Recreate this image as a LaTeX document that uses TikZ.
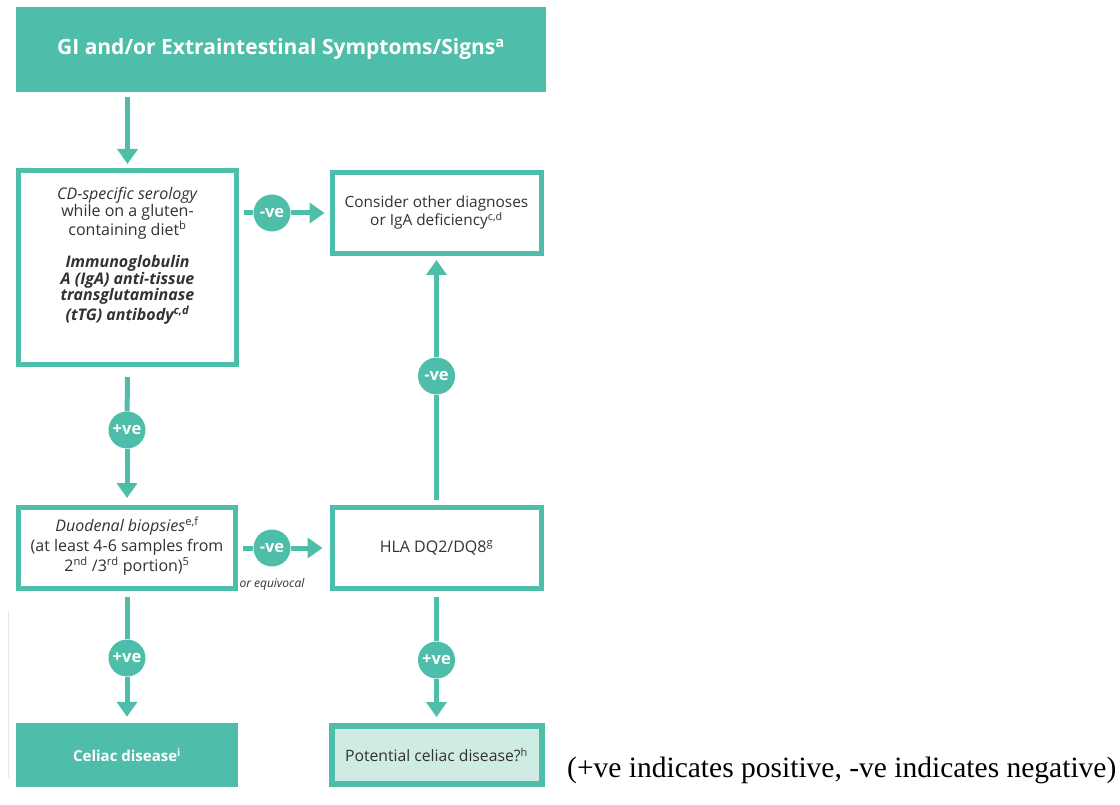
\documentclass[tikz,border=0pt]{standalone}
\usepackage{fontspec}
\setmainfont{Open Sans}
\newfontfamily\notefont{Liberation Serif}
\usetikzlibrary{arrows.meta}
\definecolor{teal1}{RGB}{78,189,169}
\definecolor{lightteal}{RGB}{206,235,228}
\definecolor{txt}{RGB}{50,50,50}
\begin{document}
\begin{tikzpicture}[x=1pt,y=-1pt,
  box/.style={draw=teal1, line width=5pt, fill=white, inner sep=0pt, text=txt,
    align=center, font=\fontsize{16}{18}\selectfont},
  fbox/.style={fill=teal1, inner sep=0pt, text=white, align=center},
  txtnode/.style={text=txt, align=center, inner sep=0pt},
  conn/.style={draw=teal1, line width=5pt},
  arr/.style={conn, -{Triangle[length=15pt,width=20pt]}},
  lab/.style={circle, fill=teal1, minimum size=37pt, inner sep=0pt, text=white,
    font=\bfseries\fontsize{16.5}{16.5}\selectfont},
]
\useasboundingbox (0,0) rectangle (1120,805);
\fill[white] (0,0) rectangle (1120,805);

% boxes
\node[fbox, minimum width=530pt, minimum height=85pt,
  font=\bfseries\fontsize{21}{24}\selectfont] (top) at (281,49.5)
  {GI and/or Extraintestinal Symptoms/Signs\textsuperscript{a}};

\node[box, minimum width=218pt, minimum height=194pt] (b2) at (127.5,267.5) {};
\node[txtnode, font=\fontsize{16}{16.5}\selectfont] (b2t) at (127.5,256)
  {\textit{CD-specific serology}\\ while on a gluten-\\ containing diet\textsuperscript{b}\\[15.5pt]
   \textbf{\textit{Immunoglobulin}}\\ \textbf{\textit{A (IgA) anti-tissue}}\\
   \textbf{\textit{transglutaminase}}\\ \textbf{\textit{(tTG) antibody\textsuperscript{c,d}}}};

\node[box, minimum width=209pt, minimum height=81pt,
  font=\fontsize{15.4}{18}\selectfont] (b3) at (436.5,213)
  {Consider other diagnoses\\ or IgA deficiency\textsuperscript{c,d}};

\node[box, minimum width=217pt, minimum height=81pt] (b4) at (127,548) {};
\node[txtnode, font=\fontsize{16}{20}\selectfont] (b4t) at (127,546)
  {\textit{Duodenal biopsies}\textsuperscript{e,f}\\ (at least 4-6 samples from\\
   2\textsuperscript{nd} /3\textsuperscript{rd} portion)\textsuperscript{5}};

\node[box, minimum width=209pt, minimum height=81pt] (b5) at (436.5,548)
  {HLA DQ2/DQ8\textsuperscript{g}};

\node[fbox, minimum width=222pt, minimum height=64pt,
  font=\bfseries\fontsize{15}{18}\selectfont] (b6) at (127,755)
  {Celiac disease\textsuperscript{i}};

\node[box, line width=6pt, fill=lightteal, minimum width=210pt, minimum height=58pt,
  font=\fontsize{15.7}{18}\selectfont] (b7) at (436.5,755)
  {Potential celiac disease?\textsuperscript{h}};

% labels on connectors
\node[lab] (c1) at (127,430) {+ve};
\node[lab] (c2) at (272,213) {-ve};
\node[lab] (c3) at (436.5,376) {-ve};
\node[lab] (c4) at (272,548) {-ve};
\node[lab] (c5) at (127,658) {+ve};
\node[lab] (c6) at (436.5,660) {+ve};
\node[text=txt, font=\itshape\fontsize{12}{14}\selectfont] (eq) at (272,584) {or equivocal};

% connectors
\draw[arr, shorten <=5pt, shorten >=4pt] (top.south -| b2.north) -- (b2.north);
\draw[conn, shorten <=10pt] (b2.south) -- (c1);
\draw[arr, shorten >=7pt] (c1) -- (b4.north);
\draw[conn, shorten <=5pt] (b2.east |- b3.west) -- (c2);
\draw[arr, shorten >=5pt] (c2) -- (b3.west);
\draw[conn, shorten <=5pt] (b5.north) -- (c3);
\draw[arr, shorten >=4pt] (c3) -- (b3.south);
\draw[conn, shorten <=5pt] (b4.east) -- (c4);
\draw[arr, shorten >=7pt] (c4) -- (b5.west);
\draw[conn, shorten <=6pt] (b4.south) -- (c5);
\draw[arr, shorten >=6pt] (c5) -- (b6.north);
\draw[conn, shorten <=6pt] (b5.south) -- (c6);
\draw[arr, shorten >=6pt] (c6) -- (b7.north);

% scan artefact line at left
\draw[black!10, line width=1pt] (8,612) -- (8,778);

% note
\node[font=\notefont\fontsize{29.5}{32}\selectfont, anchor=base west, inner sep=0pt] (note) at (567,777)
  {(+ve indicates positive, -ve indicates negative)};
\end{tikzpicture}
\end{document}
